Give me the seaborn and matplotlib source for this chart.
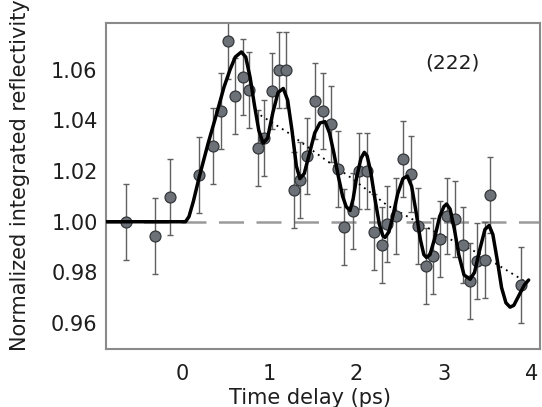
import matplotlib
matplotlib.use("Agg")
import matplotlib.pyplot as plt
import seaborn as sns
import numpy as np
import pandas as pd

# ---- data ----
delay = [-0.645, -0.31, -0.134, 0.198, 0.358, 0.443, 0.53, 0.607, 0.695, 0.771,
         0.874, 0.939, 1.027, 1.111, 1.191, 1.283, 1.352, 1.436, 1.523, 1.619,
         1.703, 1.79, 1.856, 1.962, 2.031, 2.123, 2.2, 2.287, 2.352, 2.451,
         2.535, 2.62, 2.707, 2.795, 2.872, 2.96, 3.032, 3.127, 3.215, 3.299,
         3.383, 3.471, 3.528, 3.88]
reflectivity = [1.000, 0.9945, 1.0096, 1.0186, 1.0297, 1.0437, 1.0714, 1.0495, 1.0570, 1.0518,
                1.0290, 1.0330, 1.0516, 1.0597, 1.0597, 1.0126, 1.0165, 1.0258, 1.0476, 1.0437,
                1.0387, 1.0209, 0.9978, 1.0044, 1.0202, 1.0202, 0.9958, 0.9909, 0.9991, 1.0024,
                1.0248, 1.0189, 0.9984, 0.9826, 0.9865, 0.9933, 1.0024, 1.0011, 0.9909, 0.9768,
                0.9846, 0.9848, 1.0107, 0.9750]
error = [0.015] * len(delay)

fit_t = [-0.87, 0.04, 0.08, 0.13, 0.2, 0.3, 0.4, 0.48, 0.55, 0.61, 0.68, 0.73, 0.78, 0.83,
         0.88, 0.93, 0.98, 1.04, 1.10, 1.16, 1.21, 1.26, 1.31, 1.35, 1.40, 1.46, 1.52,
         1.58, 1.638, 1.69, 1.74, 1.79, 1.84, 1.88, 1.924, 1.96, 2.0, 2.05, 2.088, 2.12,
         2.16, 2.21, 2.26, 2.30, 2.325, 2.37, 2.42, 2.47, 2.53, 2.58, 2.63, 2.68, 2.73,
         2.77, 2.80, 2.84, 2.89, 2.95, 3.0, 3.03, 3.07, 3.12, 3.17, 3.23, 3.3, 3.35, 3.41,
         3.47, 3.517, 3.56, 3.61, 3.66, 3.71, 3.757, 3.80, 3.86, 3.92, 3.97]
fit_v = [1.000, 1.000, 1.002, 1.008, 1.018, 1.031, 1.043, 1.053, 1.060, 1.065, 1.067, 1.065,
         1.057, 1.046, 1.036, 1.031, 1.033, 1.043, 1.051, 1.0526, 1.048, 1.036, 1.022, 1.017,
         1.019, 1.027, 1.035, 1.039, 1.0395, 1.035, 1.027, 1.018, 1.010, 1.006, 1.0044, 1.009,
         1.0175, 1.025, 1.0274, 1.026, 1.020, 1.009, 0.999, 0.9945, 0.9938, 0.996, 1.003,
         1.011, 1.017, 1.018, 1.014, 1.004, 0.993, 0.987, 0.9859, 0.987, 0.993, 1.002, 1.006,
         1.007, 1.005, 0.997, 0.987, 0.979, 0.9773, 0.980, 0.989, 0.997, 0.9985, 0.995, 0.985,
         0.974, 0.968, 0.9663, 0.967, 0.971, 0.975, 0.977]

trend_t = [0.9, 1.2, 1.6, 1.95, 2.35, 2.9, 3.4, 3.95]
trend_v = [1.042, 1.0355, 1.0255, 1.017, 1.0065, 0.996, 0.9875, 0.976]

x_ticks = [0, 1, 2, 3, 4]
y_ticks = [0.96, 0.98, 1.00, 1.02, 1.04, 1.06]
baseline = 1.00
label_text = "(222)"

# ---- plotting ----
sns.set_style("white")
plt.rcParams['font.family'] = ['DejaVu Sans']

fig = plt.figure(figsize=(5.42, 4.07), dpi=100)
ax = fig.add_axes([0.1956, 0.142, 0.8007, 0.8013])

gray = "#8a8a8a"
txt = "#1e1e1e"
ax.axhline(baseline, color="#9a9a9a", lw=1.8, ls=(0, (10, 5)), zorder=1)

ax.errorbar(delay, reflectivity, yerr=error, fmt="none", ecolor="#606060",
            elinewidth=1.0, capsize=2.5, capthick=1.0, zorder=2)

pts = pd.DataFrame({"t": delay, "r": reflectivity})
sns.scatterplot(data=pts, x="t", y="r", ax=ax, s=62, color="#6b7177",
                edgecolor="#34383b", linewidth=0.9, zorder=4)

trend = pd.DataFrame({"t": trend_t, "v": trend_v})
sns.lineplot(data=trend, x="t", y="v", ax=ax, color="black", lw=1.3,
             linestyle=(0, (1, 2.5)), zorder=3, sort=False)

fit = pd.DataFrame({"t": fit_t, "v": fit_v})
sns.lineplot(data=fit, x="t", y="v", ax=ax, color="black", lw=2.5, zorder=5, sort=False)

ax.set_xlim(-0.87, 4.1)
ax.set_ylim(0.9497, 1.0784)
ax.set_xticks(x_ticks)
ax.set_yticks(y_ticks)
ax.set_yticklabels([f"{v:.2f}" for v in y_ticks])
ax.tick_params(direction="in", length=7, width=1.2, color=gray, labelsize=15,
               labelcolor=txt)
ax.tick_params(axis="x", pad=11)
ax.tick_params(axis="y", pad=6)
for s in ax.spines.values():
    s.set_color(gray)
    s.set_linewidth(1.5)

ax.set_xlabel("Time delay (ps)", fontsize=15, color=txt)
ax.set_ylabel("Normalized integrated reflectivity", fontsize=15, color=txt)
ax.xaxis.set_label_coords(0.471, -0.118)
ax.yaxis.set_label_coords(-0.175, 0.535)
ax.text(3.1, 1.0626, label_text, fontsize=14.5, ha="center", va="center", color=txt)

fig.savefig("out.png", dpi=100)
